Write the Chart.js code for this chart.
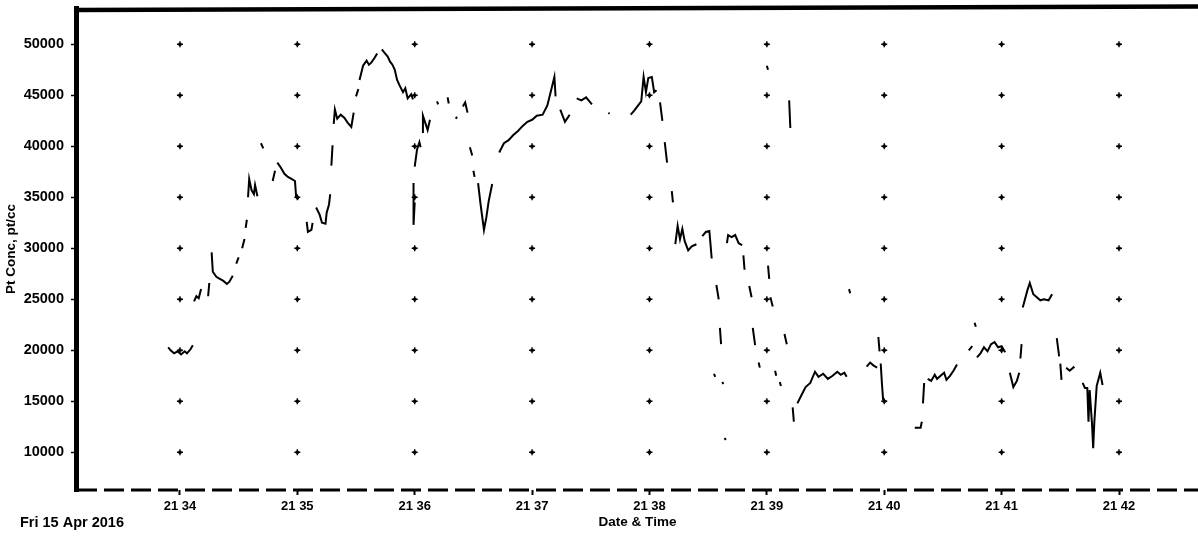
<!DOCTYPE html>
<html>
<head>
<meta charset="utf-8">
<script src="https://cdn.jsdelivr.net/npm/chart.js@4.4.1/dist/chart.umd.min.js"></script>
<style>
html,body{margin:0;padding:0;background:#fff;}
#wrap{width:1198px;height:538px;position:relative;}
</style>
</head>
<body>
<div id="wrap"><canvas id="c"></canvas></div>
<script>
// x ticks: minutes past 21:00 on Fri 15 Apr 2016
const xTickValues = [34, 35, 36, 37, 38, 39, 40, 41, 42];
const xTickLabels = ["21 34", "21 35", "21 36", "21 37", "21 38", "21 39", "21 40", "21 41", "21 42"];
const yTickValues = [10000, 15000, 20000, 25000, 30000, 35000, 40000, 45000, 50000];
const yTickLabels = ["10000", "15000", "20000", "25000", "30000", "35000", "40000", "45000", "50000"];
const dateLabel = "Fri 15 Apr 2016";
const xTitle = "Date & Time";
const yTitle = "Pt Conc, pt/cc";

// time (minutes past 21:00) and Pt concentration; null = gap in the record
const times = [
 33.90,33.92,33.95,33.98,34.01,34.04,34.06,34.09,34.11,34.11,
 34.12,34.14,34.16,34.18,34.18,
 34.24,34.25,34.25,
 34.27,34.28,34.31,34.34,34.37,34.40,34.42,34.45,34.45,
 34.48,34.50,34.50,
 34.53,34.55,34.55,
 34.56,34.57,34.57,
 34.58,34.59,34.61,34.63,34.64,34.66,34.66,
 34.69,34.71,34.71,
 34.79,34.81,34.81,
 34.83,34.86,34.89,34.92,34.95,34.98,34.99,35.01,35.01,
 35.08,35.09,35.12,35.13,35.13,
 35.16,35.19,35.21,35.24,35.25,35.27,35.28,35.28,
 35.29,35.30,35.30,
 35.31,35.32,35.34,35.37,35.40,35.43,35.46,35.48,35.48,
 35.50,35.52,35.52,
 35.53,35.56,35.59,35.61,35.63,35.66,35.68,35.68,
 35.72,35.74,35.77,35.79,35.81,35.83,35.85,35.87,35.90,35.92,35.94,35.97,35.985,35.985,
 35.99,35.99,36.00,36.00,
 36.00,36.02,36.04,36.05,36.05,
 36.07,36.07,36.09,36.11,36.13,36.13,
 36.19,36.20,36.20,
 36.28,36.29,36.29,
 36.35,36.36,36.36,
 36.41,36.43,36.45,36.45,
 36.47,36.49,36.49,
 36.50,36.51,36.51,
 36.54,36.56,36.59,36.61,36.63,36.66,36.66,
 36.72,36.76,36.80,36.84,36.88,36.92,36.96,37.00,37.04,37.09,37.13,37.16,37.19,37.20,37.20,
 37.24,37.28,37.32,37.32,
 37.38,37.42,37.46,37.51,37.51,
 37.65,37.66,37.66,
 37.84,37.87,37.91,37.93,37.95,37.97,37.99,38.02,38.04,38.06,38.06,
 38.09,38.11,38.11,
 38.13,38.15,38.15,
 38.19,38.20,38.20,
 38.22,38.24,38.26,38.28,38.30,38.33,38.36,38.40,38.40,
 38.45,38.48,38.51,38.52,38.53,38.53,
 38.55,38.56,38.56,
 38.57,38.59,38.59,
 38.60,38.61,38.61,
 38.62,38.63,38.63,
 38.64,38.65,38.65,
 38.66,38.67,38.70,38.73,38.76,38.79,38.79,
 38.80,38.81,38.81,
 38.85,38.87,38.87,
 38.88,38.90,38.90,
 38.93,38.94,38.94,
 39.00,39.01,39.01,
 39.01,39.02,39.02,
 39.03,39.05,39.05,
 39.07,39.08,39.08,
 39.11,39.12,39.12,
 39.15,39.17,39.17,
 39.19,39.20,39.20,
 39.22,39.23,39.23,
 39.26,39.29,39.33,39.37,39.41,39.44,39.48,39.52,39.56,39.60,39.63,39.66,39.68,39.68,
 39.70,39.71,39.71,
 39.85,39.88,39.91,39.94,39.94,
 39.95,39.96,39.96,
 39.97,39.98,39.99,40.00,40.02,40.02,
 40.26,40.31,40.32,40.32,
 40.33,40.34,40.34,
 40.37,40.40,40.43,40.45,40.48,40.51,40.53,40.56,40.59,40.62,40.62,
 40.72,40.75,40.75,
 40.77,40.78,40.78,
 40.79,40.82,40.85,40.88,40.91,40.94,40.97,41.00,41.03,41.03,
 41.07,41.10,41.13,41.15,41.15,
 41.16,41.17,41.17,
 41.18,41.22,41.24,41.27,41.30,41.33,41.36,41.40,41.43,41.43,
 41.47,41.49,41.49,
 41.50,41.51,41.51,
 41.55,41.58,41.62,41.62,
 41.69,41.71,41.73,41.74,41.75,41.77,41.78,41.79,41.81,41.84,41.86
];
const conc = [
 20300,20000,19700,19900,19600,19900,19700,20100,20500,null,
 24800,25300,25100,26000,null,
 25300,26600,null,
 29600,27700,27200,27000,26800,26500,26700,27300,null,
 28500,29100,null,
 30000,30900,null,
 32000,32800,null,
 35000,36800,35700,35300,36200,35100,null,
 40300,39800,null,
 36600,37600,null,
 38400,37900,37300,37000,36800,36600,35000,34800,null,
 32600,31600,31800,32500,null,
 34000,33300,32500,32400,33500,34300,35300,null,
 38100,40100,null,
 42200,43600,42700,43100,42800,42300,41900,43300,null,
 44900,45600,null,
 46500,47900,48400,48000,48200,48700,49100,null,
 49500,49200,48800,48300,48000,47500,46500,46000,45300,45700,44700,45100,44600,null,
 36400,32300,34500,null,
 38000,39700,40400,39900,null,
 41300,43000,42300,41600,42600,null,
 44400,44100,null,
 44800,44200,null,
 42700,42900,null,
 43900,44300,43300,null,
 39900,39100,null,
 37600,37000,null,
 36400,34400,31800,33000,34600,36300,null,
 39400,40300,40600,41100,41500,42000,42400,42600,43000,43100,44000,45400,46800,44900,null,
 43600,42400,43100,null,
 44700,44500,44800,44100,null,
 43300,43200,null,
 43100,43500,44100,44400,46800,45300,46700,46800,45300,45500,null,
 44300,42500,null,
 40400,38400,null,
 35600,34500,null,
 30400,32200,30900,31900,30700,29800,30200,30400,null,
 31200,31600,31700,30400,29000,null,
 17700,17400,null,
 26400,25000,null,
 22200,20600,null,
 16900,16700,null,
 11400,11200,null,
 30500,31300,31100,31300,30500,30300,null,
 29300,27900,null,
 26300,25200,null,
 22200,20500,null,
 18800,18300,null,
 47900,47500,null,
 28300,27000,null,
 25200,24300,null,
 18000,17500,null,
 16900,16500,null,
 21600,20600,null,
 44500,41800,null,
 14400,13000,null,
 14800,15500,16400,16800,17900,17400,17700,17200,17500,17900,17600,17800,17400,null,
 26000,25600,null,
 18400,18800,18500,18300,null,
 21300,19900,null,
 18700,16800,15200,15000,15000,null,
 12400,12400,13000,null,
 14800,16800,null,
 17200,17000,17600,17200,17500,17800,17100,17500,18000,18600,null,
 20000,20400,null,
 22700,22300,null,
 19300,19700,20300,19900,20600,20800,20300,20400,19800,null,
 17800,16400,17000,17800,null,
 19200,20600,null,
 24200,25900,26600,25500,25200,24900,25000,24900,25500,null,
 21200,19400,null,
 18700,17100,null,
 18300,18000,18400,null,
 16800,16300,16300,13000,16100,12800,10400,13000,16500,17800,16600
];

const points = times.map((t, i) => ({ x: t, y: conc[i] }));
const FONT = "'Liberation Sans', Arial, sans-serif";

function noPad(scale) {
  scale.paddingTop = 0; scale.paddingBottom = 0;
  scale.paddingLeft = 0; scale.paddingRight = 0;
}

const framePlugin = {
  id: 'frame',
  beforeDatasetsDraw(chart) {
    const { ctx, scales: { x, y } } = chart;
    ctx.save();
    ctx.strokeStyle = '#000';
    ctx.fillStyle = '#000';
    ctx.lineWidth = 1.4;
    xTickValues.forEach(xv => {
      const px = x.getPixelForValue(xv);
      yTickValues.forEach(yv => {
        const py = y.getPixelForValue(yv);
        ctx.beginPath();
        ctx.moveTo(px - 3, py); ctx.lineTo(px + 3, py);
        ctx.moveTo(px, py - 3); ctx.lineTo(px, py + 3);
        ctx.stroke();
        ctx.fillRect(px - 1.5, py - 1.5, 3, 3);
      });
    });
    ctx.restore();
  },
  afterDraw(chart) {
    const { ctx, chartArea: a } = chart;
    ctx.save();
    ctx.strokeStyle = '#000';
    // left axis (solid, heavy)
    ctx.lineWidth = 5;
    ctx.beginPath();
    ctx.moveTo(a.left - 0.5, a.top - 2);
    ctx.lineTo(a.left - 0.5, a.bottom + 2);
    ctx.stroke();
    // top frame (solid, heavy)
    ctx.lineWidth = 4.5;
    ctx.beginPath();
    ctx.moveTo(a.left - 3, a.top + 2);
    ctx.lineTo(a.right, a.top - 1.5);
    ctx.stroke();
    // bottom axis (dashed)
    ctx.lineWidth = 3;
    ctx.setLineDash([20, 7]);
    ctx.beginPath();
    ctx.moveTo(a.left, a.bottom);
    ctx.lineTo(a.right, a.bottom);
    ctx.stroke();
    ctx.setLineDash([]);
    // date stamp
    ctx.fillStyle = '#000';
    ctx.font = 'bold 14.5px ' + FONT;
    ctx.textAlign = 'left';
    ctx.textBaseline = 'middle';
    ctx.fillText(dateLabel, 20, 523);
    ctx.restore();
  }
};

new Chart(document.getElementById('c'), {
  type: 'line',
  data: {
    datasets: [{
      data: points,
      borderColor: '#000',
      borderWidth: 2,
      pointRadius: 0,
      spanGaps: false,
      tension: 0,
      fill: false
    }]
  },
  options: {
    responsive: true,
    maintainAspectRatio: false,
    animation: false,
    layout: { padding: { top: 8, right: 0, left: 0, bottom: 0 } },
    plugins: { legend: { display: false }, tooltip: { enabled: false } },
    scales: {
      x: {
        type: 'linear',
        min: 33.123,
        max: 42.673,
        afterFit(scale) { scale.height = 48; noPad(scale); },
        afterBuildTicks(scale) { scale.ticks = xTickValues.map(v => ({ value: v })); },
        border: { display: false },
        grid: { display: true, drawOnChartArea: false, drawTicks: true, tickLength: 5, tickColor: '#000', tickWidth: 2 },
        ticks: {
          color: '#000',
          padding: 4,
          maxRotation: 0,
          autoSkip: false,
          font: { family: FONT, size: 13, weight: 'bold' },
          callback: (v) => { const i = xTickValues.indexOf(v); return i >= 0 ? xTickLabels[i] : ''; }
        },
        title: {
          display: true, text: xTitle, color: '#000',
          font: { family: FONT, size: 13.5, weight: 'bold' },
          padding: { top: 0, bottom: 8 }
        }
      },
      y: {
        type: 'linear',
        min: 6304,
        max: 53559,
        afterFit(scale) { scale.width = 77; noPad(scale); },
        afterBuildTicks(scale) { scale.ticks = yTickValues.map(v => ({ value: v })); },
        border: { display: false },
        grid: { display: true, drawOnChartArea: false, drawTicks: true, tickLength: 6, tickColor: '#000', tickWidth: 1.5 },
        ticks: {
          color: '#000',
          padding: 7,
          autoSkip: false,
          font: { family: FONT, size: 14.5, weight: 'bold' },
          callback: (v) => { const i = yTickValues.indexOf(v); return i >= 0 ? yTickLabels[i] : ''; }
        },
        title: {
          display: true, text: yTitle, color: '#000',
          font: { family: FONT, size: 13.5, weight: 'bold' },
          padding: { top: 3, bottom: 4 }
        }
      }
    }
  },
  plugins: [framePlugin]
});
</script>
</body>
</html>
